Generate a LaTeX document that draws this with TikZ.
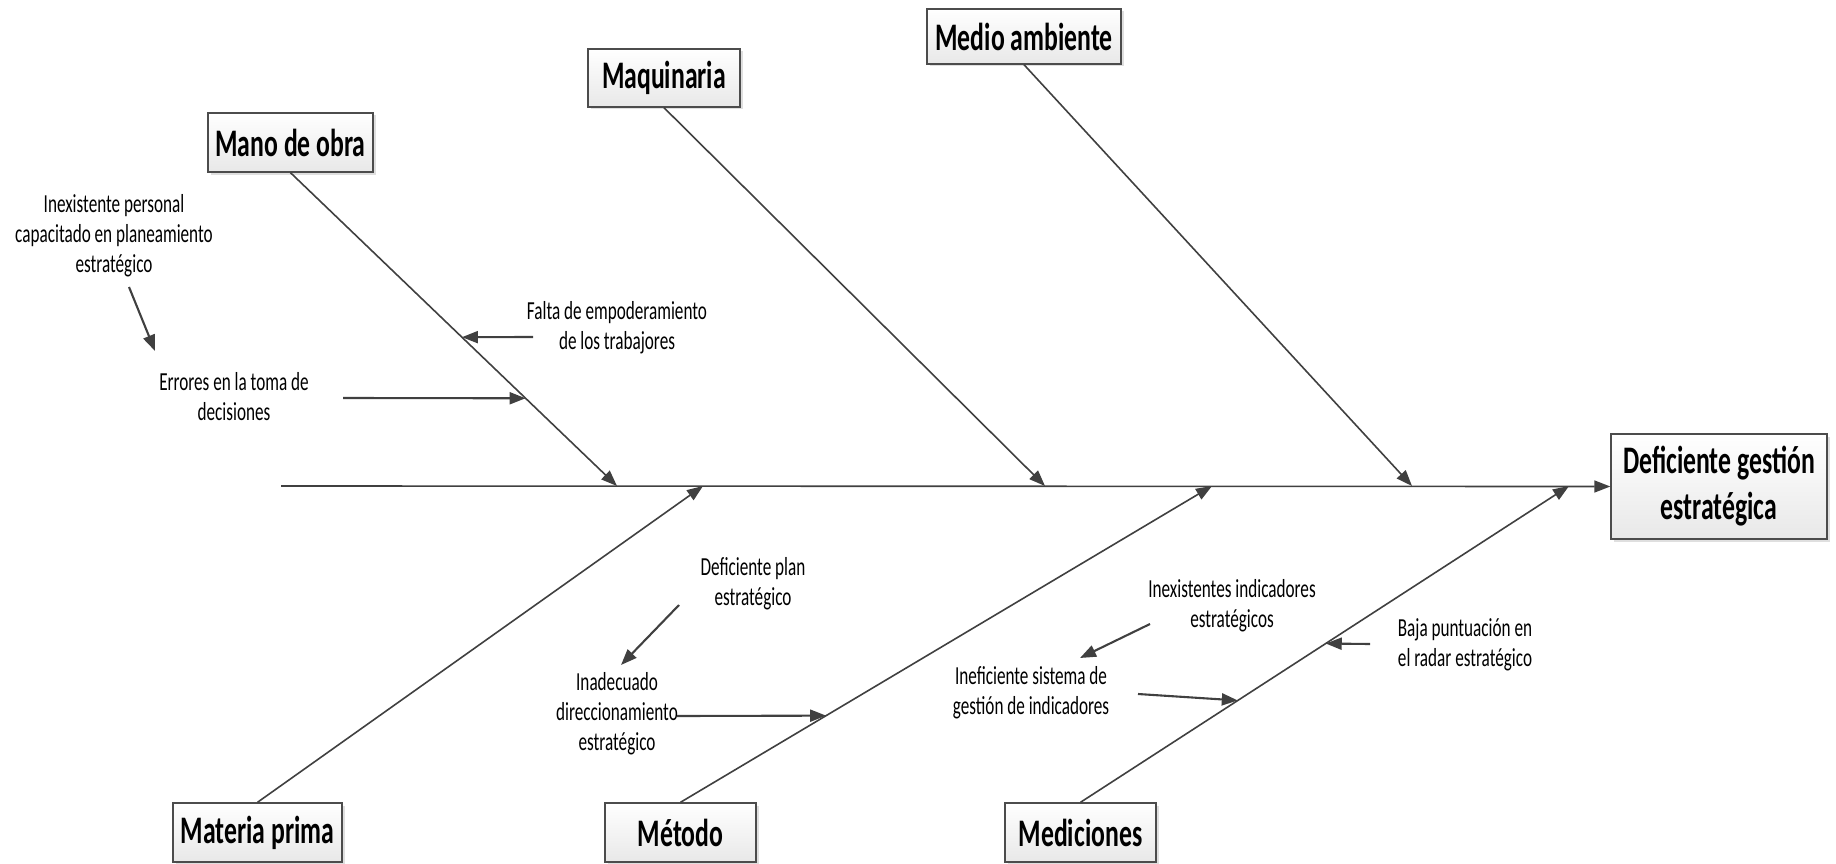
\documentclass[tikz,border=0pt]{standalone}
\usepackage{fontspec}
\setmainfont{Carlito}[FakeStretch=0.66]
\usetikzlibrary{arrows.meta,shadows}
\begin{document}
\begin{tikzpicture}[x=1pt,y=-1pt,
  line/.style={draw=black!75, line width=1.6pt},
  tip/.style={-{Triangle[length=16pt,width=12pt]}},
  sub/.style={draw=black!75, line width=2.1pt},
  cat/.style={draw=black!70, line width=1.4pt, top color=white, bottom color=black!9,
    drop shadow={shadow xshift=2.5pt,shadow yshift=-2.5pt,opacity=0.25},
    font=\fontsize{39}{46}\selectfont\bfseries, inner sep=0pt, align=center},
  cause/.style={font=\fontsize{26}{30}\selectfont, align=center, inner sep=0pt}]

\useasboundingbox (0,0) rectangle (1836,864);

% category boxes and effect
\node[cat, minimum width=165pt, minimum height=59pt] (mano) at (290.5,142.5) {Mano de obra};
\node[cat, minimum width=152pt, minimum height=58pt] (maq) at (664,78) {Maquinaria};
\node[cat, minimum width=194pt, minimum height=55pt] (medio) at (1024,36.5) {Medio ambiente};
\node[cat, minimum width=169pt, minimum height=59pt] (mat) at (257.5,832.5) {Materia prima};
\node[cat, minimum width=151pt, minimum height=59pt] (met) at (680.5,832.5) {Método};
\node[cat, minimum width=151pt, minimum height=59pt] (med) at (1080.5,832.5) {Mediciones};
\node[cat, minimum width=216pt, minimum height=105pt] (res) at (1719,486.5) {Deficiente gestión\\estratégica};

% spine
\coordinate (tail) at (281,486);
\draw[line,tip] (tail) -- (res.west);

% bones meeting the spine
\coordinate (sp1) at (617,486);
\coordinate (sp2) at (1045,486);
\coordinate (sp3) at (1412,486);
\coordinate (sp4) at (703,486);
\coordinate (sp5) at (1212,486);
\coordinate (sp6) at (1569,486);
\draw[line,tip] (mano.south) -- (sp1);
\draw[line,tip] (maq.south) -- (sp2);
\draw[line,tip] (medio.south) -- (sp3);
\draw[line,tip] (mat.north) -- (sp4);
\draw[line,tip] (met.north) -- (sp5);
\draw[line,tip] (med.north) -- (sp6);

% points on the bones hit by the sub-causes
\path (mano.south) -- (sp1) coordinate[pos=0.525] (b1) coordinate[pos=0.72] (b2);
\path (met.north) -- (sp5) coordinate[pos=0.274] (b3);
\path (med.north) -- (sp6) coordinate[pos=0.322] (b4) coordinate[pos=0.502] (b5);

% sub-causes
\node[cause] (t1) at (114,236) {Inexistente personal\\capacitado en planeamiento\\estratégico};
\node[cause] (t2) at (234,397) {Errores en la toma de\\decisiones};
\node[cause] (t3) at (617,328) {Falta de empoderamiento\\de los trabajores};
\node[cause] (t4) at (753,584) {Deficiente plan\\estratégico};
\node[cause] (t5) at (617,714) {Inadecuado\\direccionamiento\\estratégico};
\node[cause] (t6) at (1232,606) {Inexistentes indicadores\\estratégicos};
\node[cause] (t7) at (1031,693) {Ineficiente sistema de\\gestión de indicadores};
\node[cause] (t8) at (1465,645) {Baja puntuación en\\el radar estratégico};

% sub-cause arrows
\coordinate (s1) at (129,287);  \coordinate (e1) at (155,351);
\coordinate (s2) at (343,398);
\coordinate (s3) at (533,337);
\coordinate (s4) at (679,605);  \coordinate (e4) at (621,665);
\coordinate (s5) at (677,716);
\coordinate (s6) at (1150,624); \coordinate (e6) at (1080,658);
\coordinate (s7) at (1138,694);
\coordinate (s8) at (1370,644);
\draw[sub,tip] (s1) -- (e1);
\draw[sub,tip] (s2) -- (b2);
\draw[sub,tip] (s3) -- (b1);
\draw[sub,tip] (s4) -- (e4);
\draw[sub,tip] (s5) -- (b3);
\draw[sub,tip] (s6) -- (e6);
\draw[sub,tip] (s7) -- (b4);
\draw[sub,tip] (s8) -- (b5);
\end{tikzpicture}
\end{document}
